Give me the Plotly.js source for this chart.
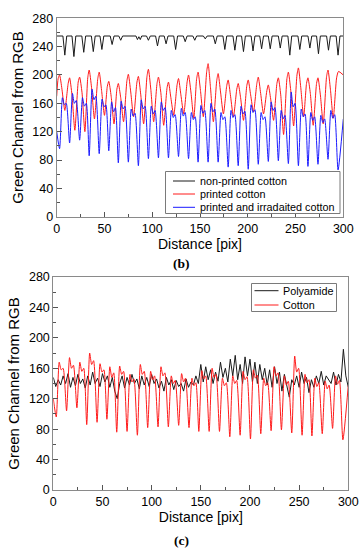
<!DOCTYPE html>
<html>
<head>
<meta charset="utf-8">
<script src="https://cdn.plot.ly/plotly-3.0.1.min.js"></script>
<style>html,body{margin:0;padding:0;background:#fff;}#chart{width:363px;height:550px;}</style>
</head>
<body>
<div id="chart"></div>
<script>
// ---------- DATA (panel b) ----------
const nonPrintedX = [0, 6.5,8.5,10.5, 16,18,20, 26.3,28.3,30.3, 36.3,38.3,40.3, 45.3,47.3,49.3, 56,58,60, 65,67,69, 83,84.5,86,87.5,89, 94,96,98, 103.5,105.5,107.5, 112.5,114.5,116.5, 122.5,124.5,126.5, 132.5,134.5,136.5, 142.5,144.5,146.5, 153.5,155.5,157.5, 164,166,168, 174,176,178, 184.5,186.5,188.5, 193.5,195.5,197.5, 203.5,205.5,207.5, 212.5,214.5,216.5, 221.5,223.5,225.5, 232,234,236, 242,244,246, 252.5,254.5,256.5, 263,265,267, 272,274,276, 282.5,284.5,286.5, 292.5,294.5,296.5, 300];
const nonPrintedY = [255, 255,228,255, 255,226,255, 255,232,255, 255,233,255, 255,236,255, 255,243,255, 255,249,255, 255,250,254,250,255, 255,249,255, 255,241,255, 255,244,255, 255,236,255, 255,247,255, 255,249,255, 255,251,255, 255,244,255, 255,236,255, 255,235,255, 255,233,255, 255,234,255, 255,237,255, 255,237,255, 255,238,255, 255,228,255, 255,236,255, 255,238,255, 255,230,255, 255,235,255, 255,228,255, 255];

const printedX = [0,1.5,3,5.5,8.5, 12,13.5,16,19, 22.5,24,26.5,29.5, 32.5,34,36.5,39.5, 43,44.5,47,50, 53,54.5,57,60, 63,64.5,67,70, 73.5,75,77.5,80.5, 84,85.5,88,91, 94.5,96,98.5,101.5, 105,106.5,109,112, 115.5,117,119.5,122.5, 126,127.5,130,133, 136.5,138,140.5,143.5, 146.5,148,150.5,153.5, 157,158.5,161,164, 167.5,169,171.5,174.5, 178,179.5,182,185, 188.5,190,192.5,195.5, 199,200.5,203,206, 209.5,211,213.5,216.5, 220,221.5,224,227, 230.5,232,234.5,237.5, 241,242.5,245,248, 251.5,253,255.5,258.5, 261.5,263,265.5,268.5, 272,273.5,276,279, 282.5,284,286.5,289.5, 293,295,300];
const printedY = [170,195,200,180,150, 188,196,172,122, 190,197,175,120, 196,207,182,138, 195,204,178,143, 184,191,170,131, 180,188,168,134, 192,201,176,141, 190,198,172,131, 198,208,180,134, 188,197,175,129, 182,190,168,143, 186,195,172,145, 190,200,176,139, 195,204,178,141, 205,216,182,134, 192,202,176,145, 185,193,170,141, 180,188,168,136, 185,193,172,148, 188,197,174,145, 178,186,166,136, 188,196,172,116, 195,204,178,128, 200,210,182,141, 188,196,174,129, 188,196,172,131, 198,207,180,139, 196,205,200];

const irradiatedX = [0, 3,6,8,10, 13.5,16.5,18.5,20.5, 24,27,29,31, 34,37,39,41, 44.5,47.5,49.5,51.5, 54.5,57.5,59.5,61.5, 64.5,67.5,69.5,71.5, 75,78,80,82, 85.5,88.5,90.5,92.5, 96,99,101,103, 106.5,109.5,111.5,113.5, 117,120,122,124, 127.5,130.5,132.5,134.5, 138,141,143,145, 148,151,153,155, 158.5,161.5,163.5,165.5, 169,172,174,176, 179.5,182.5,184.5,186.5, 190,193,195,197, 200.5,203.5,205.5,207.5, 211,214,216,218, 221.5,224.5,226.5,228.5, 232,235,237,239, 242.5,245.5,247.5,249.5, 253,256,258,260, 263,266,268,270, 273.5,276.5,278.5,280.5, 284,287,289,291, 294.5,300];
const irradiatedY = [120, 96,168,158,160, 104,174,160,164, 108,168,156,160, 86,180,165,170, 89,166,155,158, 93,162,148,154, 76,163,152,156, 77,152,142,146, 72,165,152,156, 82,156,145,150, 83,162,150,154, 83,150,140,144, 85,153,142,147, 82,147,137,141, 77,157,146,150, 77,160,148,152, 77,147,137,141, 70,150,140,144, 72,156,145,149, 67,158,147,151, 74,147,137,141, 78,162,150,154, 79,150,138,143, 75,176,155,160, 72,152,141,145, 71,147,136,141, 74,143,133,138, 81,150,139,144, 66,138];

// ---------- DATA (panel c) ----------
const polyamideX = [0,2.5,5,7.5,10,12.5,15,17.5,20,22.5,25,27.5,30,32.5,35,37.5,40,42.5,45,47.5,50,52.5,55,57.5,60,62.5,65,67.5,70,72.5,75,77.5,80,82.5,85,87.5,90,92.5,95,97.5,100,102.5,105,107.5,110,112.5,115,117.5,120,122.5,125,127.5,130,132.5,135,137.5,140,142.5,145,147.5,150,152.5,155,157.5,160,162.5,165,167.5,170,172.5,175,177.5,180,182.5,185,187.5,190,192.5,195,197.5,200,202.5,205,207.5,210,212.5,215,217.5,220,222.5,225,227.5,230,232.5,235,237.5,240,242.5,245,247.5,250,252.5,255,257.5,260,262.5,265,267.5,270,272.5,275,277.5,280,282.5,285,287.5,290,292.5,295,297.5,300];
const polyamideY = [148,136,145,138,150,140,153,135,148, 137,152,140,146,134,150,138,155, 140,147,136,153,142,150,135,148, 130,120,140,150,134,148,138,152, 140,146,133,150,138,148,136,152, 140,146,134,143,130,148,138,145, 132,144,136,140,130,146,135,142, 138,150,140,165,142,162,145,158, 140,155,143,168,148,160,142,172, 150,177,145,165,140,175,150,172, 142,168,140,165,145,160,138,158, 135,162,140,155,130,152,135,122, 145,138,150,135,155,140,148,128, 145,135,150,140,156,138,150,145, 140,155,138,152,142,185,150,135];
// the cotton profile in (c) is the same measured profile as the irradiated cotton in (b)
const cottonX = irradiatedX;
const cottonY = irradiatedY;

const namesB = ['non-printed cotton', 'printed cotton', 'printed and irradaited cotton'];
const namesC = ['Polyamide', 'Cotton'];
const xTitle = 'Distance [pix]';
const yTitle = 'Green Channel from RGB';
const panelLabels = ['(b)', '(c)'];

// ---------- STYLE ----------
const BLACK = '#1a1a1a', RED = '#ff1a1a', BLUE = '#1a1aff';
const W = 363, H = 550;
const px = v => v / W;
const py = v => 1 - v / H;
const sans = 'Liberation Sans, Arial, sans-serif';

const traces = [
  {x: nonPrintedX, y: nonPrintedY, name: namesB[0], type: 'scatter', mode: 'lines', line: {color: BLACK, width: 1}, xaxis: 'x', yaxis: 'y'},
  {x: printedX, y: printedY, name: namesB[1], type: 'scatter', mode: 'lines', line: {color: RED, width: 1, shape: 'spline', smoothing: 0.6}, xaxis: 'x', yaxis: 'y'},
  {x: irradiatedX, y: irradiatedY, name: namesB[2], type: 'scatter', mode: 'lines', line: {color: BLUE, width: 1, shape: 'spline', smoothing: 0.6}, xaxis: 'x', yaxis: 'y'},
  {x: polyamideX, y: polyamideY, name: namesC[0], type: 'scatter', mode: 'lines', line: {color: BLACK, width: 1}, xaxis: 'x2', yaxis: 'y2'},
  {x: cottonX, y: cottonY, name: namesC[1], type: 'scatter', mode: 'lines', line: {color: RED, width: 1, shape: 'spline', smoothing: 0.6}, xaxis: 'x2', yaxis: 'y2'}
];

function axisBase() {
  return {
    showgrid: false, zeroline: false, showline: true, linecolor: '#8a8a8a', linewidth: 1, mirror: true,
    ticks: 'inside', ticklen: 5, tickcolor: '#555', tickwidth: 1,
    tickfont: {family: sans, size: 12.5, color: '#000'}, tick0: 0
  };
}
const xa = (dom, anchor) => Object.assign(axisBase(), {
  domain: dom, anchor: anchor, range: [0, 300], dtick: 50,
  minor: {ticks: 'inside', ticklen: 3, dtick: 25, tickcolor: '#555'},
  title: {text: xTitle, font: {family: sans, size: 14, color: '#000'}, standoff: 4}
});
const ya = (dom, anchor) => Object.assign(axisBase(), {
  domain: dom, anchor: anchor, range: [0, 280], dtick: 40,
  minor: {ticks: 'inside', ticklen: 3, dtick: 20, tickcolor: '#555'},
  title: {text: yTitle, font: {family: sans, size: 15, color: '#000'}, standoff: 5}
});

// legend (drawn compactly, like the original)
const shapes = [];
const annotations = [];
function legendBox(x0, x1, y0, y1, items, lineX0, lineX1, textX, rowYs) {
  shapes.push({type: 'rect', xref: 'paper', yref: 'paper', x0: px(x0), x1: px(x1), y0: py(y1), y1: py(y0),
    line: {color: '#7a7a7a', width: 1}, fillcolor: '#fff', layer: 'above'});
  items.forEach((it, i) => {
    shapes.push({type: 'line', xref: 'paper', yref: 'paper', x0: px(lineX0), x1: px(lineX1), y0: py(rowYs[i]), y1: py(rowYs[i]),
      line: {color: it.color, width: 1}, layer: 'above'});
    annotations.push({xref: 'paper', yref: 'paper', x: px(textX), y: py(rowYs[i]), xanchor: 'left', yanchor: 'middle',
      text: it.name, showarrow: false, font: {family: sans, size: 10.8, color: '#000'}});
  });
}
legendBox(165.5, 340, 171.5, 213.5, [{name: namesB[0], color: BLACK}, {name: namesB[1], color: RED}, {name: namesB[2], color: BLUE}],
  173, 195, 198, [181, 194, 207.3]);
legendBox(251.5, 336.5, 283.5, 311.5, [{name: namesC[0], color: BLACK}, {name: namesC[1], color: RED}],
  254.5, 278.5, 281, [290.7, 305]);

annotations.push({xref: 'paper', yref: 'paper', x: px(182), y: py(263), xanchor: 'center', yanchor: 'middle', text: '<b>' + panelLabels[0] + '</b>', showarrow: false,
  font: {family: 'Liberation Serif, Times New Roman, serif', size: 13.5, color: '#000'}});
annotations.push({xref: 'paper', yref: 'paper', x: px(182), y: py(540), xanchor: 'center', yanchor: 'middle', text: '<b>' + panelLabels[1] + '</b>', showarrow: false,
  font: {family: 'Liberation Serif, Times New Roman, serif', size: 13.5, color: '#000'}});

const layout = {
  width: W, height: H, margin: {l: 0, r: 0, t: 0, b: 0},
  paper_bgcolor: '#fff', plot_bgcolor: '#fff', showlegend: false,
  font: {family: sans, color: '#000'},
  xaxis: xa([56.7 / W, 343.3 / W], 'y'),
  yaxis: ya([1 - 216.7 / H, 1 - 18.3 / H], 'x'),
  xaxis2: xa([53.3 / W, 348.3 / W], 'y2'),
  yaxis2: ya([1 - 490 / H, 1 - 277 / H], 'x2'),
  shapes: shapes,
  annotations: annotations
};

Plotly.newPlot('chart', traces, layout, {staticPlot: true, displayModeBar: false});
</script>
</body>
</html>
